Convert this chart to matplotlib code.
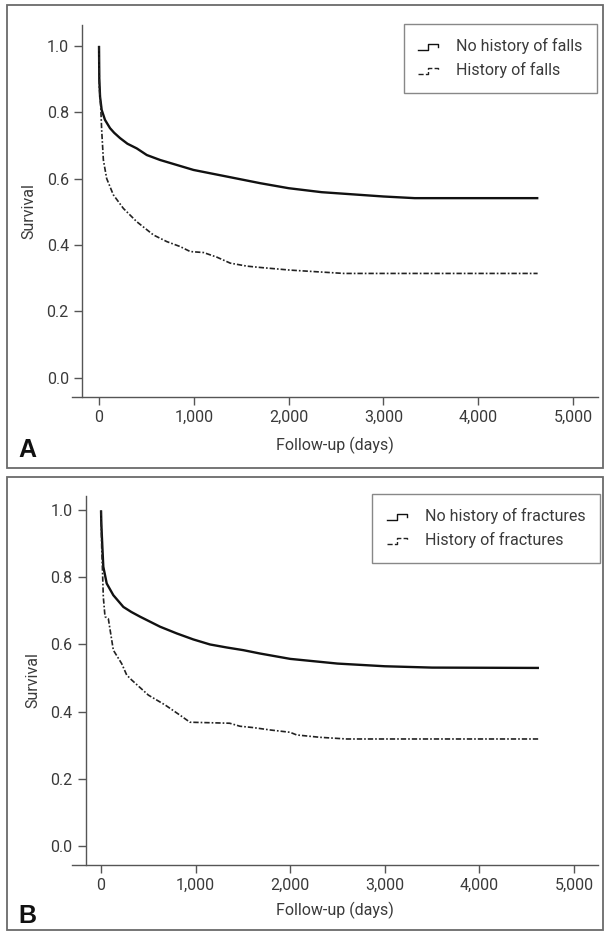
import matplotlib
matplotlib.use("Agg")
import matplotlib.pyplot as plt
from matplotlib.lines import Line2D
from matplotlib.patches import Rectangle
from matplotlib.legend_handler import HandlerBase

# survival curves (days, survival)
days_falls_no = [0, 3, 11, 28, 63, 116, 160, 222, 300, 398, 504, 645, 821, 997, 1173, 1350, 1702, 2000, 2348,
                 3000, 3330, 4635]
surv_falls_no = [1.0, 0.90, 0.847, 0.807, 0.777, 0.752, 0.738, 0.722, 0.705, 0.691, 0.671, 0.656, 0.641, 0.626,
                 0.616, 0.606, 0.586, 0.571, 0.559, 0.546, 0.541, 0.541]

days_falls_yes = [0, 3, 18, 28, 46, 81, 151, 257, 398, 574, 715, 856, 962, 1103, 1244, 1385, 1561, 1702, 2019,
                  2301, 2583, 4627]
surv_falls_yes = [1.0, 0.877, 0.817, 0.747, 0.656, 0.600, 0.551, 0.510, 0.470, 0.430, 0.410, 0.395, 0.380, 0.377,
                  0.363, 0.345, 0.336, 0.332, 0.324, 0.319, 0.314, 0.314]

days_frac_no = [0, 3, 14, 24, 60, 130, 236, 320, 412, 624, 800, 976, 1152, 1329, 1505, 1681, 2000, 2500, 3000,
                3500, 4630]
surv_frac_no = [1.0, 0.96, 0.891, 0.832, 0.782, 0.747, 0.712, 0.697, 0.683, 0.653, 0.633, 0.615, 0.600, 0.591,
                0.583, 0.573, 0.557, 0.543, 0.535, 0.531, 0.530]

days_frac_yes = [0, 7, 14, 24, 42, 77, 130, 218, 271, 324, 500, 680, 835, 940, 1360, 1469, 1610, 1786, 1998, 2069,
                 2315, 2597, 4623]
surv_frac_yes = [1.0, 0.891, 0.832, 0.742, 0.683, 0.677, 0.583, 0.543, 0.509, 0.494, 0.449, 0.419, 0.389, 0.368,
                 0.365, 0.356, 0.352, 0.345, 0.338, 0.330, 0.323, 0.318, 0.318]

x_ticks = [0, 1000, 2000, 3000, 4000, 5000]
x_tick_labels = ["0", "1,000", "2,000", "3,000", "4,000", "5,000"]
y_ticks = [0.0, 0.2, 0.4, 0.6, 0.8, 1.0]
y_tick_labels = ["0.0", "0.2", "0.4", "0.6", "0.8", "1.0"]

W, H = 607, 933
TEXT = "#3a3a3a"
AXIS = "#555555"
DASH = (0, (3.2, 1.2, 1.0, 1.2))
FS = 11.5

plt.rcParams["font.family"] = ["Roboto", "DejaVu Sans"]


class StepHandler(HandlerBase):
    # little step glyph like the SPSS legend
    def create_artists(self, legend, orig_handle, xdescent, ydescent, width, height, fontsize, trans):
        xs = [0.0, 0.42, 0.42, 0.85, 0.85]
        ys = [0.15, 0.15, 0.7, 0.7, 0.35]
        line = Line2D([x * width - xdescent for x in xs], [y * height - ydescent for y in ys],
                      color=orig_handle.get_color(), lw=1.0, linestyle=orig_handle.get_linestyle())
        line.set_transform(trans)
        return [line]


def px_box(left, top, right, bottom):
    return [left / W, 1 - bottom / H, (right - left) / W, (bottom - top) / H]


fig = plt.figure(figsize=(W / 100, H / 100), dpi=100)

panels = [
    dict(box=(7, 5, 603, 468), ax=(72, 25, 598, 396.5), xlim=(-285, 5264), ylim=(-0.057, 1.063), spine=-180,
         no=(days_falls_no, surv_falls_no), yes=(days_falls_yes, surv_falls_yes),
         labels=["No history of falls", "History of falls"], leg=(597, 24), tag="A", tag_y=450, xpad=9),
    dict(box=(7, 477, 603, 930), ax=(72, 496, 598, 865), xlim=(-307, 5254), ylim=(-0.058, 1.043), spine=-164,
         no=(days_frac_no, surv_frac_no), yes=(days_frac_yes, surv_frac_yes),
         labels=["No history of fractures", "History of fractures"], leg=(600, 494), tag="B", tag_y=916, xpad=6),
]

for p in panels:
    l, t, r, b = p["box"]
    fig.patches.append(Rectangle((l / W, 1 - b / H), (r - l) / W, (b - t) / H, transform=fig.transFigure,
                                 fill=False, edgecolor="#6a6a6a", lw=1.3))

    ax = fig.add_axes(px_box(*p["ax"]))
    h1, = ax.plot(p["no"][0], p["no"][1], color="#111111", lw=1.7, solid_capstyle="butt")
    h2, = ax.plot(p["yes"][0], p["yes"][1], color="#222222", lw=1.2, linestyle=DASH)

    ax.set_xlim(*p["xlim"])
    ax.set_ylim(*p["ylim"])
    ax.spines["top"].set_visible(False)
    ax.spines["right"].set_visible(False)
    ax.spines["left"].set_position(("data", p["spine"]))
    for s in ["left", "bottom"]:
        ax.spines[s].set_color(AXIS)
        ax.spines[s].set_linewidth(1.0)

    ax.set_xticks(x_ticks)
    ax.set_xticklabels(x_tick_labels)
    ax.set_yticks(y_ticks)
    ax.set_yticklabels(y_tick_labels)
    ax.tick_params(colors=AXIS, labelcolor=TEXT, labelsize=FS, length=6, width=1.0, pad=3.5)

    ax.set_xlabel("Follow-up (days)", fontsize=FS, color=TEXT, labelpad=p["xpad"])
    ax.set_ylabel("Survival", fontsize=FS, color=TEXT, labelpad=7)

    lx, ly = p["leg"]
    leg = ax.legend([h1, h2], p["labels"], handler_map={Line2D: StepHandler()}, loc="upper right",
                    bbox_to_anchor=(lx / W, 1 - ly / H), bbox_transform=fig.transFigure, fontsize=FS,
                    frameon=True, fancybox=False, borderaxespad=0, borderpad=0.9, labelspacing=0.5,
                    handlelength=1.5, handletextpad=0.9)
    leg.get_frame().set_edgecolor("#6a6a6a")
    leg.get_frame().set_linewidth(1.0)
    for txt in leg.get_texts():
        txt.set_color(TEXT)

    fig.text(27 / W, 1 - p["tag_y"] / H, p["tag"], fontsize=18, fontweight="bold", family="Liberation Sans",
             ha="center", va="center", color="#111111")

plt.savefig("out.png", dpi=100)
